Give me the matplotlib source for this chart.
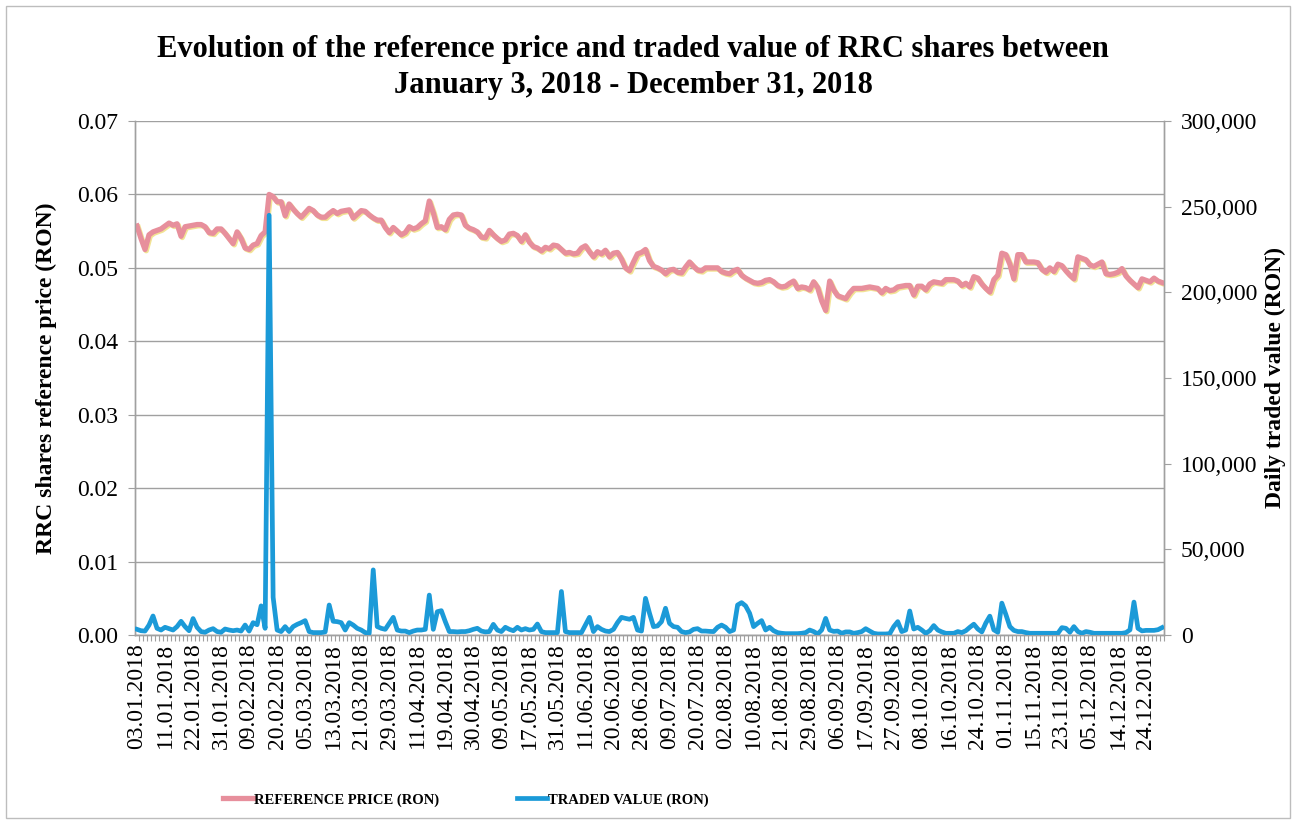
import matplotlib
matplotlib.use('Agg')
import numpy as np
import matplotlib.pyplot as plt
import matplotlib.patheffects as pe
from matplotlib.lines import Line2D
from matplotlib.patches import Rectangle
from matplotlib.ticker import FuncFormatter, MultipleLocator

# reference price (RON), one value per trading session
price = [
    0.0557, 0.0540, 0.0525, 0.0545, 0.0549, 0.0551, 0.0553, 0.0557, 0.0561, 0.0558,
    0.0560, 0.0543, 0.0556, 0.0557, 0.0558, 0.0559, 0.0559, 0.0556, 0.0548, 0.0547,
    0.0553, 0.0553, 0.0547, 0.0540, 0.0533, 0.0549, 0.0540, 0.0527, 0.0525, 0.0531,
    0.0533, 0.0544, 0.0549, 0.0600, 0.0597, 0.0590, 0.0590, 0.0571, 0.0587, 0.0580,
    0.0574, 0.0569, 0.0575, 0.0581, 0.0578, 0.0572, 0.0569, 0.0569, 0.0574, 0.0578,
    0.0574, 0.0577, 0.0578, 0.0579, 0.0568, 0.0573, 0.0578, 0.0577, 0.0572, 0.0568,
    0.0565, 0.0565, 0.0555, 0.0548, 0.0555, 0.0550, 0.0545, 0.0548, 0.0556, 0.0553,
    0.0555, 0.0560, 0.0564, 0.0591, 0.0575, 0.0555, 0.0556, 0.0552, 0.0566, 0.0572,
    0.0573, 0.0572, 0.0558, 0.0554, 0.0552, 0.0549, 0.0542, 0.0541, 0.0551, 0.0545,
    0.0540, 0.0536, 0.0538, 0.0546, 0.0547, 0.0544, 0.0536, 0.0545, 0.0535, 0.0529,
    0.0527, 0.0523, 0.0528, 0.0526, 0.0531, 0.0530, 0.0525, 0.0520, 0.0521, 0.0519,
    0.0520, 0.0527, 0.0530, 0.0522, 0.0515, 0.0522, 0.0519, 0.0524, 0.0515, 0.0520,
    0.0521, 0.0512, 0.0500, 0.0496, 0.0508, 0.0519, 0.0521, 0.0525, 0.0510, 0.0502,
    0.0500, 0.0497, 0.0492, 0.0497, 0.0498, 0.0494, 0.0493, 0.0501, 0.0508, 0.0502,
    0.0497, 0.0496, 0.0500, 0.0500, 0.0500, 0.0500, 0.0495, 0.0493, 0.0492, 0.0496,
    0.0498, 0.0490, 0.0486, 0.0483, 0.0480, 0.0479, 0.0480, 0.0483, 0.0484, 0.0481,
    0.0476, 0.0474, 0.0475, 0.0479, 0.0482, 0.0472, 0.0474, 0.0473, 0.0470, 0.0481,
    0.0473, 0.0455, 0.0442, 0.0482, 0.0470, 0.0462, 0.0460, 0.0458, 0.0466, 0.0472,
    0.0472, 0.0472, 0.0473, 0.0474, 0.0473, 0.0472, 0.0466, 0.0472, 0.0469, 0.0470,
    0.0474, 0.0475, 0.0476, 0.0476, 0.0463, 0.0475, 0.0475, 0.0470, 0.0478, 0.0481,
    0.0480, 0.0479, 0.0484, 0.0484, 0.0484, 0.0482, 0.0476, 0.0479, 0.0474, 0.0488,
    0.0486, 0.0478, 0.0472, 0.0467, 0.0484, 0.0490, 0.0520, 0.0518, 0.0505, 0.0485,
    0.0518, 0.0518, 0.0508, 0.0508, 0.0508, 0.0507, 0.0498, 0.0494, 0.0500, 0.0495,
    0.0505, 0.0503, 0.0496, 0.0490, 0.0485, 0.0515, 0.0513, 0.0511, 0.0504, 0.0502,
    0.0505, 0.0508, 0.0492, 0.0491, 0.0492, 0.0494, 0.0499, 0.0489, 0.0483, 0.0478,
    0.0473, 0.0485, 0.0483, 0.0481, 0.0486, 0.0482, 0.0480,
]

# daily traded value (RON)
traded = [
    3300, 2500, 2300, 5800, 11100, 3900, 2900, 4500, 3700, 2900,
    4900, 8000, 4900, 2500, 9600, 4500, 2000, 1600, 2900, 3700,
    2000, 1600, 3500, 2900, 2500, 2900, 2300, 5800, 2300, 7200,
    6000, 17000, 3900, 245000, 22000, 2900, 2000, 4900, 2000, 4900,
    6200, 7200, 8400, 2000, 1400, 1400, 1400, 1800, 17500, 8000,
    7800, 7200, 2900, 7200, 5800, 3900, 2900, 1400, 1000, 38000,
    4900, 3900, 3300, 6800, 10300, 2900, 2300, 2300, 1400, 2300,
    2900, 2900, 3300, 23300, 3300, 13600, 14200, 7800, 2000, 2000,
    1800, 2000, 2000, 2500, 3300, 3900, 2300, 1800, 2000, 6200,
    2900, 2000, 4500, 3300, 2500, 4500, 2900, 3700, 2900, 3300,
    6400, 2000, 1400, 1400, 1400, 1400, 25400, 2000, 1400, 1400,
    1400, 1400, 5800, 10300, 2000, 4900, 3300, 2300, 2000, 3300,
    7200, 10300, 9700, 9200, 10300, 2900, 2300, 21400, 12700, 4900,
    5300, 7800, 15600, 6800, 4900, 4500, 2000, 1400, 1800, 3300,
    3700, 2300, 2300, 2100, 2000, 4500, 5800, 4500, 2000, 2900,
    17500, 18900, 17000, 12700, 4900, 6800, 8400, 2900, 4500, 2500,
    1400, 1000, 800, 800, 800, 800, 1000, 1400, 2900, 2000,
    600, 2900, 9700, 2900, 2100, 2300, 1000, 1800, 1800, 1000,
    1400, 2000, 3700, 2300, 1000, 600, 600, 600, 800, 4900,
    7800, 2000, 2900, 14000, 3500, 4500, 2900, 1000, 2500, 5500,
    2900, 1800, 1000, 1000, 1000, 2000, 1400, 2500, 4500, 6300,
    3500, 1800, 7000, 11000, 3000, 1600, 18600, 12000, 4900, 2700,
    2000, 2000, 1400, 1000, 1000, 1000, 1000, 1000, 1000, 1000,
    1000, 4300, 3900, 1600, 4900, 2000, 1000, 2000, 1600, 1000,
    1000, 1000, 1000, 1000, 1000, 1000, 1000, 1400, 3000, 19200,
    3900, 2400, 2700, 2700, 2700, 3100, 4300,
]

date_labels = [
    '03.01.2018', '11.01.2018', '22.01.2018', '31.01.2018', '09.02.2018',
    '20.02.2018', '05.03.2018', '13.03.2018', '21.03.2018', '29.03.2018',
    '11.04.2018', '19.04.2018', '30.04.2018', '09.05.2018', '17.05.2018',
    '31.05.2018', '11.06.2018', '20.06.2018', '28.06.2018', '09.07.2018',
    '20.07.2018', '02.08.2018', '10.08.2018', '21.08.2018', '29.08.2018',
    '06.09.2018', '17.09.2018', '27.09.2018', '08.10.2018', '16.10.2018',
    '24.10.2018', '01.11.2018', '15.11.2018', '23.11.2018', '05.12.2018',
    '14.12.2018', '24.12.2018',
]
label_step = 7

serif = 'Liberation Serif'
pink = '#e78f9c'
blue = '#1b9ad8'
grid_grey = '#a0a0a0'

fig = plt.figure(figsize=(12.94, 8.22), dpi=100)
ax = fig.add_axes([135 / 1294, 1 - 635 / 822, 1029 / 1294, 514 / 822])
ax2 = ax.twinx()

x_price = np.arange(len(price))
x_traded = np.arange(len(traded))

ax.plot(x_price, price, color=pink, lw=3.8, solid_joinstyle='round', zorder=3,
        path_effects=[pe.Stroke(offset=(0.9, -0.9), linewidth=3.8, foreground='#f2e394'),
                      pe.Normal()])
ax2.plot(x_traded, traded, color=blue, lw=3.4, solid_joinstyle='round', zorder=3)

ax.set_xlim(-0.5, len(price) - 0.5)
ax.set_ylim(0, 0.07)
ax2.set_ylim(0, 300000)

ax.yaxis.set_major_locator(MultipleLocator(0.01))
ax.yaxis.set_major_formatter(FuncFormatter(lambda v, p: f'{v:.2f}'))
ax2.yaxis.set_major_locator(MultipleLocator(50000))
ax2.yaxis.set_major_formatter(FuncFormatter(lambda v, p: f'{int(v):,}'))

tick_pos = np.arange(len(date_labels)) * label_step
ax.set_xticks(tick_pos)
ax.set_xticklabels(date_labels, rotation=90, fontfamily=serif, fontsize=17)
ax.set_xticks(np.arange(len(price)) + 0.5, minor=True)
ax.tick_params(axis='x', which='major', length=0, pad=6)
ax.tick_params(axis='x', which='minor', length=4, color=grid_grey, width=0.8)

ax.grid(axis='y', color=grid_grey, lw=1.0)
ax.set_axisbelow(True)

for a in (ax, ax2):
    for s in a.spines.values():
        s.set_color(grid_grey)
        s.set_linewidth(1.0)
    a.spines['top'].set_visible(False)

ax.tick_params(axis='y', length=5, color=grid_grey, labelsize=17, pad=7)
ax2.tick_params(axis='y', length=5, color=grid_grey, labelsize=17, pad=7)
for lab in ax.get_yticklabels() + ax2.get_yticklabels():
    lab.set_fontfamily(serif)

ax.set_ylabel('RRC shares reference price (RON)', fontfamily=serif, fontsize=17,
              fontweight='bold')
ax.yaxis.set_label_coords(-0.076, 0.5)
ax2.set_ylabel('Daily traded value (RON)', fontfamily=serif, fontsize=17,
               fontweight='bold', rotation=90)
ax2.yaxis.set_label_coords(1.098, 0.5)

fig.text(633 / 1294, 1 - 50 / 822,
         'Evolution of the reference price and traded value of RRC shares between',
         ha='center', va='center', fontfamily=serif, fontsize=22, fontweight='bold')
fig.text(633 / 1294, 1 - 85 / 822, 'January 3, 2018 - December 31, 2018',
         ha='center', va='center', fontfamily=serif, fontsize=22, fontweight='bold')

handles = [Line2D([], [], color=pink, lw=3.8), Line2D([], [], color=blue, lw=3.4)]
fig.legend(handles, ['REFERENCE PRICE (RON)', 'TRADED VALUE (RON)'],
           loc='center', bbox_to_anchor=(466 / 1294, 1 - 800 / 822), ncol=2,
           frameon=False, handlelength=2.05, handletextpad=0.1, columnspacing=5.3,
           prop={'family': serif, 'weight': 'bold', 'size': 10.5})

fig.patches.append(Rectangle((6 / 1294, 4 / 822), 1284 / 1294, 812 / 822,
                             transform=fig.transFigure, fill=False,
                             edgecolor='#bdbdbd', lw=1.0))

fig.savefig('out.png', dpi=100)
